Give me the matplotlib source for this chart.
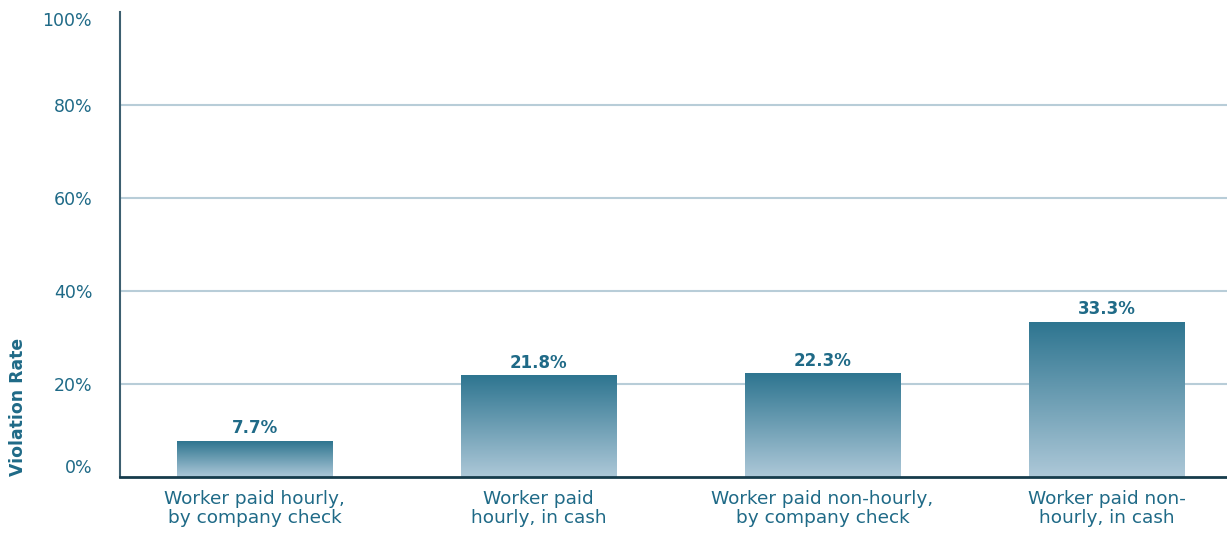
import numpy as np
import matplotlib.pyplot as plt
from matplotlib.colors import LinearSegmentedColormap

plt.rcParams['font.family'] = ['DejaVu Sans']

categories = ['Worker paid hourly,\nby company check',
              'Worker paid\nhourly, in cash',
              'Worker paid non-hourly,\nby company check',
              'Worker paid non-\nhourly, in cash']
rates = [7.7, 21.8, 22.3, 33.3]
yticks = [0, 20, 40, 60, 80, 100]

txt_col = '#1f6a87'
grad = LinearSegmentedColormap.from_list('g', ['#adc8d8', '#2e7590'])

fig = plt.figure(figsize=(12.27, 5.35), dpi=100)
ax = fig.add_axes([120 / 1227, 1 - 477 / 535, 1107 / 1227, 465 / 535])

x = np.arange(len(rates))
width = 0.546
bars = ax.bar(x, rates, width=width, color='none', zorder=3)
g = np.linspace(0, 1, 256).reshape(-1, 1)
for b in bars:
    x0, y0 = b.get_x(), b.get_y()
    ax.imshow(g, cmap=grad, origin='lower', aspect='auto', zorder=3,
              extent=[x0, x0 + b.get_width(), y0, y0 + b.get_height()])
    ax.text(x0 + b.get_width() / 2, b.get_height() + 0.8, f'{b.get_height():.1f}%',
            ha='center', va='bottom', fontsize=12, fontweight='bold', color=txt_col)

ax.set_xlim(-0.4736, 3.424)
ax.set_ylim(0, 100)
ax.set_yticks(yticks)
ax.set_yticklabels([f'{v}%' for v in yticks], fontsize=12.5, color=txt_col)
# end labels sit inside the axis range in the original
ylabs = ax.get_yticklabels()
ylabs[0].set_va('bottom')
ylabs[-1].set_va('top')
ax.set_xticks(x)
ax.set_xticklabels(categories, fontsize=13.3, color=txt_col, linespacing=1.13)
ax.tick_params(axis='both', length=0)
ax.tick_params(axis='y', pad=20)
ax.tick_params(axis='x', pad=9)
for v in yticks[1:-1]:
    ax.axhline(v, color='#b8cdd8', lw=1.5, zorder=1)
ax.spines['top'].set_visible(False)
ax.spines['right'].set_visible(False)
ax.spines['left'].set_color('#3d5f70')
ax.spines['left'].set_linewidth(1.5)
ax.spines['bottom'].set_color('#163c4c')
ax.spines['bottom'].set_linewidth(2)
ax.spines['bottom'].set_zorder(4)

fig.text(18 / 1227, 1 - 476 / 535, 'Violation Rate', rotation=90, ha='center', va='bottom',
         fontsize=12.4, fontweight='bold', color=txt_col)

fig.savefig('out.png', dpi=100)
